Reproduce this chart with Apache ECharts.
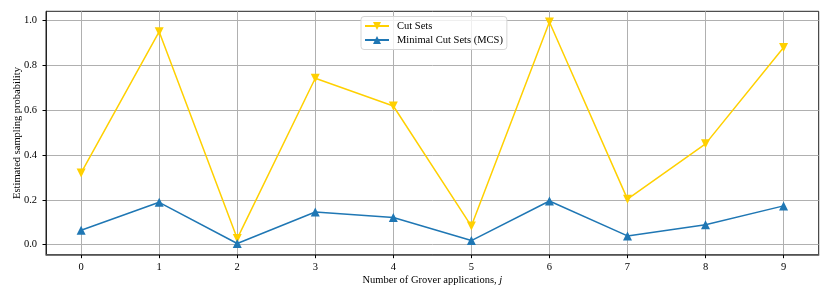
<!DOCTYPE html>
<html><head><meta charset="utf-8">
<script src="https://cdn.jsdelivr.net/npm/echarts@6/dist/echarts.min.js"></script>
<style>html,body{margin:0;padding:0;background:#fff}#c{width:830px;height:302px}</style>
</head><body><div id="c"></div>
<script>
const categories = [0, 1, 2, 3, 4, 5, 6, 7, 8, 9];
const cutSets = [0.32, 0.951, 0.027, 0.743, 0.619, 0.083, 0.994, 0.203, 0.450, 0.880];
const mcs = [0.064, 0.189, 0.005, 0.146, 0.121, 0.018, 0.195, 0.039, 0.089, 0.173];
const xTicks = [0, 1, 2, 3, 4, 5, 6, 7, 8, 9];
const yTicks = [0.0, 0.2, 0.4, 0.6, 0.8, 1.0];

const font = 'Liberation Serif';
const fs = 10.5;
const chart = echarts.init(document.getElementById('c'));
chart.setOption({
  animation: false,
  textStyle: { fontFamily: font },
  grid: { left: 46, right: 11.3, top: 11.3, bottom: 47.3, show: true, borderColor: '#222', borderWidth: 1, containLabel: false, outerBoundsMode: 'none' },
  legend: {
    top: 16.5, left: 361, orient: 'vertical', itemWidth: 24, itemHeight: 10, itemGap: 3,
    padding: [4, 4, 4, 3],
    borderColor: '#d6d6d6', borderWidth: 1, borderRadius: 3, backgroundColor: 'rgba(255,255,255,0.8)',
    textStyle: { fontFamily: font, fontSize: fs, color: '#000', padding: [0, 0, 0, 3] },
    data: ['Cut Sets', 'Minimal Cut Sets (MCS)']
  },
  xAxis: {
    type: 'value', min: -0.45, max: 9.45,
    name: '{a|Number of Grover applications, }{b|j}', nameLocation: 'middle', nameGap: 20, nameMoveOverlap: false,
    nameTextStyle: { rich: { a: { fontFamily: font, fontSize: fs, color: '#000' }, b: { fontFamily: font, fontSize: fs, fontStyle: 'italic', color: '#000' } } },
    axisLine: { show: true, onZero: false, lineStyle: { color: '#555', width: 1.5 } },
    axisTick: { show: true, inside: false, length: 3.5, customValues: xTicks, lineStyle: { color: '#000' } },
    axisLabel: { customValues: xTicks, color: '#000', fontSize: fs, margin: 7, fontFamily: font },
    splitLine: { show: true, lineStyle: { color: '#b0b0b0', width: 1 } }
  },
  yAxis: {
    type: 'value', min: -0.045, max: 1.042, position: 'left',
    name: 'Estimated sampling probability', nameLocation: 'middle', nameGap: 23, nameMoveOverlap: false,
    nameTextStyle: { fontFamily: font, fontSize: fs, color: '#000' },
    axisLine: { show: true, onZero: false, lineStyle: { color: '#222', width: 1 } },
    axisTick: { show: true, inside: false, length: 3.5, customValues: yTicks, lineStyle: { color: '#000' } },
    axisLabel: { customValues: yTicks, color: '#000', fontSize: fs, margin: 9, fontFamily: font, formatter: v => v.toFixed(1) },
    splitLine: { show: true, lineStyle: { color: '#b0b0b0', width: 1 } }
  },
  series: [
    {
      name: 'Cut Sets', type: 'line', data: categories.map((c, i) => [c, cutSets[i]]),
      symbol: 'triangle', symbolRotate: 180, symbolSize: 9, clip: false,
      itemStyle: { color: '#FFD000' }, lineStyle: { color: '#FFD000', width: 1.5 }
    },
    {
      name: 'Minimal Cut Sets (MCS)', type: 'line', data: categories.map((c, i) => [c, mcs[i]]),
      symbol: 'triangle', symbolSize: 9, clip: false,
      itemStyle: { color: '#1f77b4' }, lineStyle: { color: '#1f77b4', width: 1.5 }
    }
  ]
});
</script></body></html>
